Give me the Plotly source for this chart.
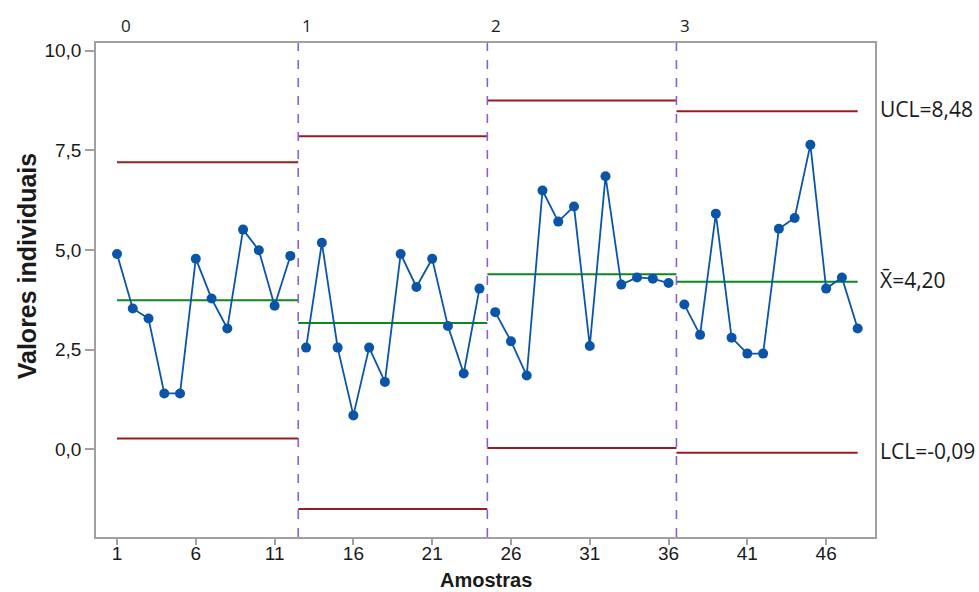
import plotly.graph_objects as go

# Individual observations (samples 1..48) and the stage each belongs to
samples = list(range(1, 49))
values = [
    4.90, 3.53, 3.28, 1.40, 1.40, 4.78, 3.78, 3.03, 5.51, 4.99, 3.60, 4.85,
    2.55, 5.18, 2.55, 0.85, 2.55, 1.69, 4.90, 4.07, 4.78, 3.09, 1.90, 4.03,
    3.44, 2.71, 1.85, 6.49, 5.71, 6.09, 2.59, 6.85, 4.13, 4.31, 4.28, 4.17,
    3.63, 2.87, 5.91, 2.80, 2.40, 2.40, 5.53, 5.80, 7.64, 4.03, 4.31, 3.03,
]
stages = [0] * 12 + [1] * 12 + [2] * 12 + [3] * 12

# Control limits per stage
stage_names = ["0", "1", "2", "3"]
stage_center = [3.74, 3.17, 4.39, 4.20]
stage_ucl = [7.20, 7.85, 8.75, 8.48]
stage_lcl = [0.27, -1.50, 0.03, -0.09]

y_ticks = [0.0, 2.5, 5.0, 7.5, 10.0]
x_ticks = [1, 6, 11, 16, 21, 26, 31, 36, 41, 46]

BLUE = "#0a55a8"
RED = "#9b1c1f"
GREEN = "#0a8a1a"
PURPLE = "#8c5fd6"
FRAME = "#a0a0a0"
TEXT = "#1a1a1a"

fig = go.Figure()

# stage extents along the sample axis
n_stage = len(stage_names)
spans = []
for s in range(n_stage):
    xs = [x for x, st in zip(samples, stages) if st == s]
    spans.append((xs[0], xs[-1]))

# center line and limits for each stage
for s in range(n_stage):
    first, last = spans[s]
    x0 = first if s == 0 else first - 0.5
    x1 = last if s == n_stage - 1 else last + 0.5
    for level, color in ((stage_ucl[s], RED), (stage_lcl[s], RED), (stage_center[s], GREEN)):
        fig.add_trace(go.Scatter(
            x=[x0, x1], y=[level, level], mode="lines",
            line=dict(color=color, width=2), hoverinfo="skip", showlegend=False,
        ))

# stage boundaries
for s in range(1, n_stage):
    xb = spans[s][0] - 0.5
    fig.add_shape(type="line", xref="x", yref="paper", x0=xb, x1=xb, y0=0, y1=1,
                  line=dict(color=PURPLE, width=1.6, dash="dash"))

# observations, one connected segment per stage
for s in range(n_stage):
    xs = [x for x, st in zip(samples, stages) if st == s]
    ys = [v for v, st in zip(values, stages) if st == s]
    fig.add_trace(go.Scatter(
        x=xs, y=ys, mode="lines+markers",
        line=dict(color=BLUE, width=1.8),
        marker=dict(color=BLUE, size=10),
        showlegend=False,
    ))

# stage labels along the top
for s in range(n_stage):
    xa = spans[s][0] if s == 0 else spans[s][0] - 0.5
    fig.add_annotation(x=xa, y=1, xref="x", yref="paper", text=stage_names[s],
                       showarrow=False, xanchor="left", yanchor="bottom",
                       xshift=2, yshift=4,
                       font=dict(family="Open Sans", size=17, color=TEXT))

# labels for the last stage's limits
def fmt(v):
    return f"{v:.2f}".replace(".", ",")

last = n_stage - 1
for txt, lvl in ((f"UCL={fmt(stage_ucl[last])}", stage_ucl[last]),
                 (f"X\u0304={fmt(stage_center[last])}", stage_center[last]),
                 (f"LCL={fmt(stage_lcl[last])}", stage_lcl[last])):
    fig.add_annotation(x=1, y=lvl, xref="paper", yref="y", text=txt,
                       showarrow=False, xanchor="left", yanchor="middle",
                       xshift=3, yshift=2,
                       font=dict(family="Open Sans", size=21, color=TEXT))

# axis titles
fig.add_annotation(x=0.5, y=0, xref="paper", yref="paper", text="<b>Amostras</b>",
                   showarrow=False, xanchor="center", yanchor="middle", yshift=-43,
                   font=dict(family="Liberation Sans", size=20, color=TEXT))
fig.add_annotation(x=0, y=0.548, xref="paper", yref="paper", text="<b>Valores individuais</b>",
                   showarrow=False, xanchor="center", yanchor="middle", xshift=-69,
                   textangle=-90,
                   font=dict(family="Liberation Sans", size=25, color=TEXT))

fig.update_layout(
    width=979, height=592,
    margin=dict(l=96, r=104, t=43, b=55),
    paper_bgcolor="white", plot_bgcolor="white",
    separators=",.",
    xaxis=dict(
        range=[-0.333, 49.10], tickvals=x_ticks, showgrid=False, zeroline=False,
        showline=True, mirror=True, linecolor=FRAME, linewidth=1.5,
        ticks="outside", ticklen=6, tickcolor=FRAME, tickwidth=1.5,
        ticklabelstandoff=-8,
        automargin=False,
        tickfont=dict(family="Liberation Sans", size=19, color=TEXT),
    ),
    yaxis=dict(
        range=[-2.20, 10.19], tickvals=y_ticks, tickformat=".1f", showgrid=False, zeroline=False,
        showline=True, mirror=True, linecolor=FRAME, linewidth=1.5,
        ticks="outside", ticklen=9, tickcolor=FRAME, tickwidth=1.5,
        automargin=False,
        tickfont=dict(family="Liberation Sans", size=19, color=TEXT),
    ),
)

fig.write_html("out.html")
